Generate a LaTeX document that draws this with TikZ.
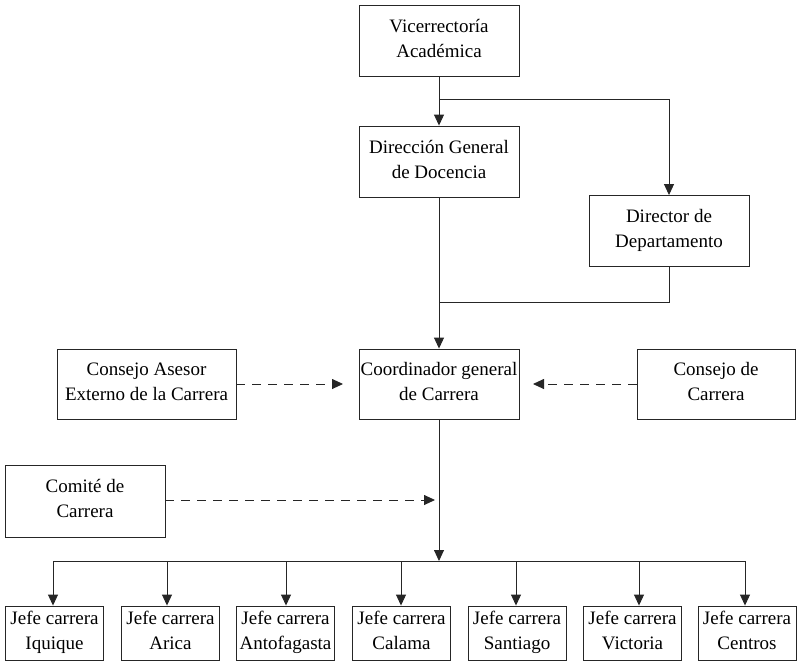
\documentclass[tikz,border=0pt]{standalone}
\usepackage{fontspec}
\setmainfont{Liberation Serif}
\usetikzlibrary{arrows.meta}
\newcommand\boxstrut{\rule[-5pt]{0pt}{22pt}}
\begin{document}
\begin{tikzpicture}[x=1pt,y=-1pt,
  box/.style={draw=black!85,line width=0.9pt,align=center,inner sep=0pt,
    font=\fontsize{19}{25}\selectfont,
    execute at begin node=\boxstrut, execute at end node=\boxstrut},
  bigbox/.style={box,minimum width=160pt,minimum height=71pt},
  jefe/.style={box,minimum width=98pt,minimum height=54pt},
  conn/.style={draw=black!85,line width=0.9pt},
  arr/.style={conn,-{Triangle[length=11pt,width=10pt]}},
  darr/.style={arr,dash pattern=on 9pt off 7pt}]
\useasboundingbox (0,0) rectangle (797,661);

\node[bigbox] (vice) at (439,41) {Vicerrectoría\\Académica};
\node[bigbox] (dgd) at (439,161.5) {Dirección General\\de Docencia};
\node[bigbox] (dir) at (669,231) {Director de\\Departamento};
\node[bigbox,minimum height=70pt] (coord) at (439,384) {Coordinador general\\de Carrera};
\node[box,minimum width=179pt,minimum height=70pt] (asesor) at (146.5,384) {Consejo Asesor\\Externo de la Carrera};
\node[box,minimum width=158pt,minimum height=70pt] (consejo) at (716,384) {Consejo de\\Carrera};
\node[bigbox,minimum height=72pt] (comite) at (85,501) {Comité de\\Carrera};

\node[jefe] (j1) at (54.5,633) {Jefe carrera\\Iquique};
\node[jefe] (j2) at (170.5,633) {Jefe carrera\\Arica};
\node[jefe] (j3) at (285.5,633) {Jefe carrera\\Antofagasta};
\node[jefe] (j4) at (401.5,633) {Jefe carrera\\Calama};
\node[jefe] (j5) at (517,633) {Jefe carrera\\Santiago};
\node[jefe] (j6) at (632.5,633) {Jefe carrera\\Victoria};
\node[jefe] (j7) at (747,633) {Jefe carrera\\Centros};

\coordinate (split) at (439,99);
\coordinate (join) at (439,302);
\coordinate (bus) at (439,561);
\coordinate (busL) at (53,561);
\coordinate (busR) at (745,561);
\coordinate (b2) at (167,561);
\coordinate (b3) at (286,561);
\coordinate (b4) at (401,561);
\coordinate (b5) at (516,561);
\coordinate (b6) at (639,561);
\coordinate (dA) at (343,384);
\coordinate (dC) at (533,384);
\coordinate (dK) at (435,500);

\draw[arr] (vice.south) -- (dgd.north);
\draw[arr] (split) -| (dir.north);
\draw[conn] (dgd.south) -- (join);
\draw[conn] (dir.south) |- (join);
\draw[arr] (join) -- (coord.north);
\draw[arr] (coord.south) -- (bus);
\draw[conn] (busL) -- (busR);
\draw[arr] (busL) -- (busL |- j1.north);
\draw[arr] (b2) -- (b2 |- j2.north);
\draw[arr] (b3) -- (b3 |- j3.north);
\draw[arr] (b4) -- (b4 |- j4.north);
\draw[arr] (b5) -- (b5 |- j5.north);
\draw[arr] (b6) -- (b6 |- j6.north);
\draw[arr] (busR) -- (busR |- j7.north);

\draw[darr] (asesor.east) -- (dA);
\draw[darr] (consejo.west) -- (dC);
\draw[darr] (comite.east |- dK) -- (dK);
\end{tikzpicture}
\end{document}
